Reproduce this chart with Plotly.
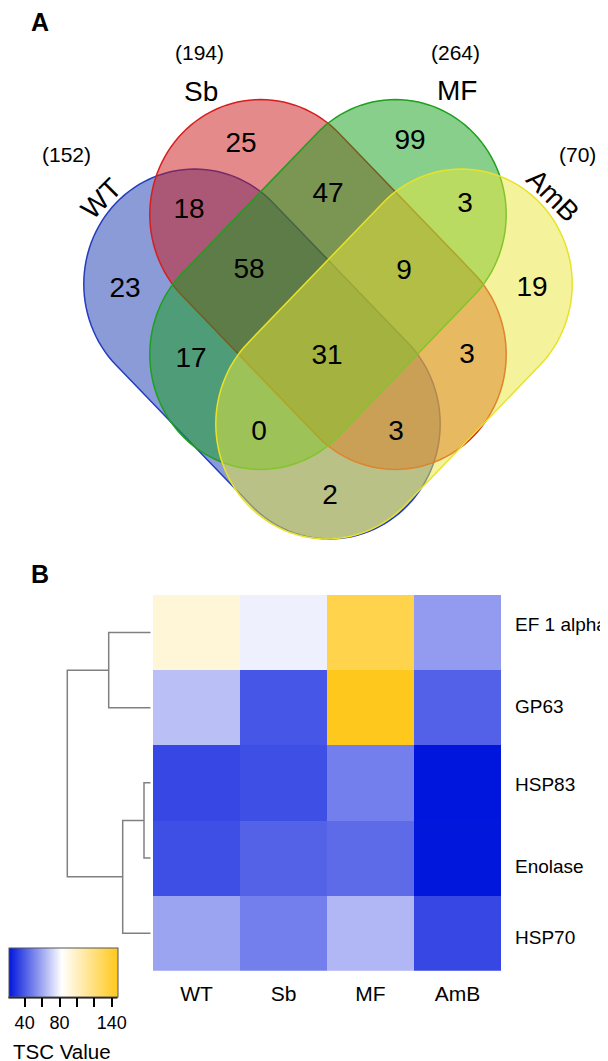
import numpy as np
import plotly.graph_objects as go

# ---------------- DATA ----------------
# Panel A: 4-set Venn diagram
set_names = ["WT", "Sb", "MF", "AmB"]
region_sets = [
    ("WT",), ("Sb",), ("MF",), ("AmB",),
    ("WT", "Sb"), ("Sb", "MF"), ("MF", "AmB"),
    ("WT", "Sb", "MF"), ("Sb", "MF", "AmB"),
    ("WT", "MF"), ("WT", "Sb", "MF", "AmB"), ("Sb", "AmB"),
    ("WT", "MF", "AmB"), ("WT", "Sb", "AmB"), ("WT", "AmB"),
]
region_counts = [23, 25, 99, 19, 18, 47, 3, 58, 9, 17, 31, 3, 0, 3, 2]

# Panel B: heatmap of TSC values
genes = ["EF 1 alpha", "GP63", "HSP83", "Enolase", "HSP70"]
conditions = ["WT", "Sb", "MF", "AmB"]
tsc_ef1a = [93.4, 78.0, 133.2, 56.1]
tsc_gp63 = [65.6, 38.1, 146.5, 41.0]
tsc_hsp83 = [34.3, 36.2, 48.8, 21.5]
tsc_enolase = [36.2, 41.2, 43.6, 21.8]
tsc_hsp70 = [58.3, 48.8, 63.3, 34.3]

# Row dendrogram (hierarchical clustering merges; leaves 0..4, new nodes 5..)
merge_left = [0, 2, 6, 5]
merge_right = [1, 3, 4, 7]
merge_height = [42.0, 6.7, 28.0, 83.4]

colorbar_ticks = [40, 60, 80, 100, 120, 140]
colorbar_ticklabels = ["40", "", "80", "", "", "140"]

# ---------------- STYLE / LAYOUT ----------------
W, H = 608, 1061
FONT = "Liberation Sans, Arial, Helvetica, sans-serif"

set_style = {
    "WT": dict(center=(254, 346), s=1, fill="rgba(21,55,175,0.5)", line="rgb(35,60,190)"),
    "Sb": dict(center=(320, 276.5), s=1, fill="rgba(203,21,21,0.5)", line="rgb(215,30,30)"),
    "MF": dict(center=(320, 276.5), s=-1, fill="rgba(17,159,25,0.5)", line="rgb(30,160,30)"),
    "AmB": dict(center=(386, 346), s=-1, fill="rgba(233,231,55,0.5)", line="rgb(232,226,40)"),
}
name_pos = {"WT": (93, 190, -45), "Sb": (193, 83, 0), "MF": (449, 82, 0), "AmB": (545, 187, 45)}
total_pos = {"WT": (58, 146), "Sb": (191, 44), "MF": (447, 44), "AmB": (569, 146)}
region_pos = [
    (117, 282), (233, 137), (402, 134), (524, 281),
    (181, 203), (320, 187), (457, 197),
    (241, 263), (396, 264),
    (183, 352), (319, 349), (459, 348),
    (251, 425), (388, 425), (322, 489),
]
row_label_shift = [8, 1, -2, -9, -4]   # pixel nudges of the row labels (as in the original)


def capsule_path(cx, cy, s, d=67.4, r=110.8, sy=1.038):
    u = np.array([s, 1.0]) / np.sqrt(2)
    n = np.array([1.0, -s]) / np.sqrt(2)
    c1 = np.array([cx - s * d, cy - d])
    c2 = np.array([cx + s * d, cy + d])
    pts = []
    for t in np.radians(np.linspace(-90, 90, 61)):
        pts.append(c2 + r * (np.cos(t) * u + np.sin(t) * n))
    for t in np.radians(np.linspace(90, 270, 61)):
        pts.append(c1 + r * (np.cos(t) * u + np.sin(t) * n))
    pts = np.array(pts)
    pts[:, 1] = cy + (pts[:, 1] - cy) * sy
    return "M " + " L ".join(f"{x:.2f},{y:.2f}" for x, y in pts) + " Z"


fig = go.Figure()

# --- Venn shapes (drawn below the count labels)
shapes = []
for name in set_names:
    st = set_style[name]
    shapes.append(dict(type="path", xref="x", yref="y", layer="below",
                       path=capsule_path(st["center"][0], st["center"][1], st["s"]),
                       fillcolor=st["fill"], line=dict(color=st["line"], width=1.5)))

# --- Venn region counts
fig.add_trace(go.Scatter(
    x=[p[0] for p in region_pos], y=[p[1] for p in region_pos],
    text=[str(c) for c in region_counts], mode="text",
    textfont=dict(family=FONT, size=28, color="black"),
    textposition="middle center", hoverinfo="skip", showlegend=False,
    xaxis="x", yaxis="y"))

annotations = []
set_totals = {n: sum(c for rs, c in zip(region_sets, region_counts) if n in rs) for n in set_names}
for n in set_names:
    x, y, ang = name_pos[n]
    annotations.append(dict(x=x, y=y, xref="x", yref="y", text=n, showarrow=False,
                            textangle=ang, font=dict(family=FONT, size=28, color="black")))
    tx, ty = total_pos[n]
    annotations.append(dict(x=tx, y=ty, xref="x", yref="y", text=f"({set_totals[n]})",
                            showarrow=False, font=dict(family=FONT, size=21, color="black")))

annotations.append(dict(x=32, y=14, xref="x", yref="y", text="<b>A</b>", showarrow=False,
                        font=dict(family=FONT, size=25, color="black")))
annotations.append(dict(x=32, y=566, xref="x", yref="y", text="<b>B</b>", showarrow=False,
                        font=dict(family=FONT, size=25, color="black")))
annotations.append(dict(x=4, y=1043, xref="x", yref="y", text="TSC Value", showarrow=False,
                        xanchor="left", borderpad=0,
                        font=dict(family=FONT, size=20.5, color="black")))

# row labels of the heatmap
for i, g in enumerate(genes):
    annotations.append(dict(x=506 / W, xref="paper", y=i, yref="y2", text=g, showarrow=False,
                            xanchor="left", yshift=row_label_shift[i], borderpad=0,
                            font=dict(family=FONT, size=19, color="black")))

# --- Heatmap
z = [tsc_ef1a, tsc_gp63, tsc_hsp83, tsc_enolase, tsc_hsp70]
zmin = float(np.min(z))
zmax = float(np.max(z))
white_val = 82.0
p_white = (white_val - zmin) / (zmax - zmin)
colorscale = [[0.0, "rgb(0,22,220)"], [p_white, "rgb(255,255,255)"], [1.0, "rgb(255,200,28)"]]

fig.add_trace(go.Heatmap(
    z=z, x=conditions, y=list(range(len(genes))), xaxis="x2", yaxis="y2",
    colorscale=colorscale, zmin=zmin, zmax=zmax, hoverinfo="skip",
    colorbar=dict(
        orientation="h", x=0.5 / W, xanchor="left", y=1 - 940 / H, yanchor="top",
        len=109, lenmode="pixels", thickness=49, thicknessmode="pixels",
        outlinewidth=1, outlinecolor="#555555", xpad=0, ypad=0,
        ticks="outside", ticklen=10, tickwidth=1.5, tickcolor="black",
        tickvals=colorbar_ticks, ticktext=colorbar_ticklabels,
        tickfont=dict(family=FONT, size=18, color="black"),
    ),
))

# --- Dendrogram
node_pos = {i: float(i) for i in range(len(genes))}
node_h = {i: 0.0 for i in range(len(genes))}
dx, dy = [], []
for k, (a, b, h) in enumerate(zip(merge_left, merge_right, merge_height)):
    ya, yb = node_pos[a], node_pos[b]
    dx += [node_h[a], h, h, node_h[b], None]
    dy += [ya, ya, yb, yb, None]
    nid = len(genes) + k
    node_pos[nid] = (ya + yb) / 2
    node_h[nid] = h
fig.add_trace(go.Scatter(x=dx, y=dy, mode="lines", xaxis="x3", yaxis="y2",
                         line=dict(color="#808080", width=1.5), hoverinfo="skip",
                         showlegend=False))

fig.update_layout(
    width=W, height=H, margin=dict(l=0, r=0, t=0, b=0),
    paper_bgcolor="white", plot_bgcolor="rgba(0,0,0,0)",
    showlegend=False, shapes=shapes, annotations=annotations,
    font=dict(family=FONT, color="black"),
    xaxis=dict(domain=[0, 1], range=[0, W], visible=False, fixedrange=True),
    yaxis=dict(domain=[0, 1], range=[H, 0], visible=False, fixedrange=True),
    xaxis2=dict(domain=[145 / W, 493 / W], anchor="y2", showgrid=False, zeroline=False,
                showline=False, ticks="outside", ticklen=4, tickcolor="rgba(0,0,0,0)",
                tickfont=dict(family=FONT, size=21, color="black")),
    yaxis2=dict(domain=[1 - 962.7 / H, 1 - 587 / H], anchor="x2", side="right",
                range=[len(genes) - 0.5, -0.5], showgrid=False, zeroline=False, showline=False,
                showticklabels=False, ticks=""),
    xaxis3=dict(domain=[0, 142.7 / W], anchor="y2", range=[142.7, 0], visible=False),
)

# colorbar bottom axis line (on the pixel-space axis of panel A/B overlay)
fig.add_shape(type="line", xref="x", yref="y", x0=0.5, x1=109.5, y0=989.5, y1=989.5,
              line=dict(color="black", width=2))

fig.write_html("out.html")
